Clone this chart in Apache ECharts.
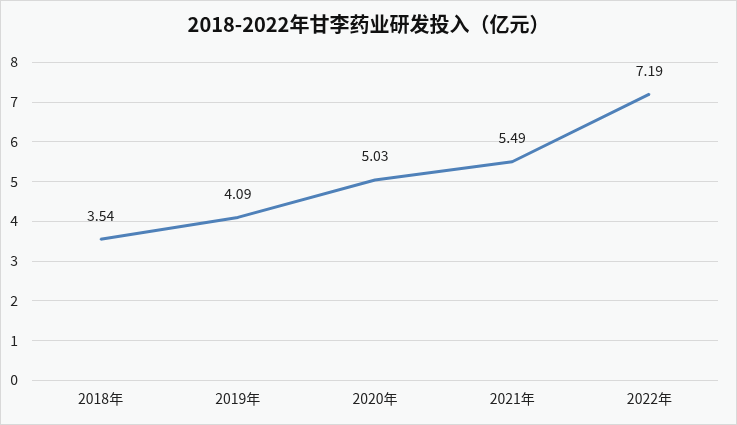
<!DOCTYPE html>
<html>
<head>
<meta charset="utf-8">
<style>
  html, body { margin: 0; padding: 0; background: #f8f9f9; }
  #main { width: 735px; height: 423px; border: 1px solid #d9d9d9; }
</style>
<script src="https://cdn.jsdelivr.net/npm/echarts@6/dist/echarts.min.js"></script>
</head>
<body>
<div id="main"></div>
<script>
// 年份与研发投入（亿元）
const years = ['2018年', '2019年', '2020年', '2021年', '2022年'];
const rdSpend = [3.54, 4.09, 5.03, 5.49, 7.19];

const chart = echarts.init(document.getElementById('main'));

chart.setOption({
  backgroundColor: '#f8f9f9',
  textStyle: { fontFamily: '"Noto Sans CJK SC", "Noto Sans", sans-serif' },
  title: {
    text: '2018-2022年甘李药业研发投入（亿元）',
    left: 'center',
    top: 8,
    textStyle: { fontSize: 20, fontWeight: 'bold', color: '#111' }
  },
  grid: { left: 31, right: 18, top: 61, bottom: 44 },
  xAxis: {
    type: 'category',
    data: years,
    axisLine: { show: false },
    axisTick: { show: false },
    axisLabel: { color: '#222', fontSize: 14, margin: 12 }
  },
  yAxis: {
    type: 'value',
    min: 0,
    max: 8,
    interval: 1,
    axisLabel: { color: '#222', fontSize: 14, margin: 14 },
    splitLine: { lineStyle: { color: '#d9d9d9' } }
  },
  series: [{
    type: 'line',
    data: rdSpend,
    showSymbol: true,
    symbol: 'circle',
    symbolSize: 2,
    itemStyle: { color: '#4f81b9' },
    lineStyle: { color: '#4f81b9', width: 3 },
    label: {
      show: true,
      position: 'top',
      distance: 16,
      color: '#222',
      fontSize: 14,
      formatter: p => p.value.toFixed(2)
    }
  }]
});
</script>
</body>
</html>
